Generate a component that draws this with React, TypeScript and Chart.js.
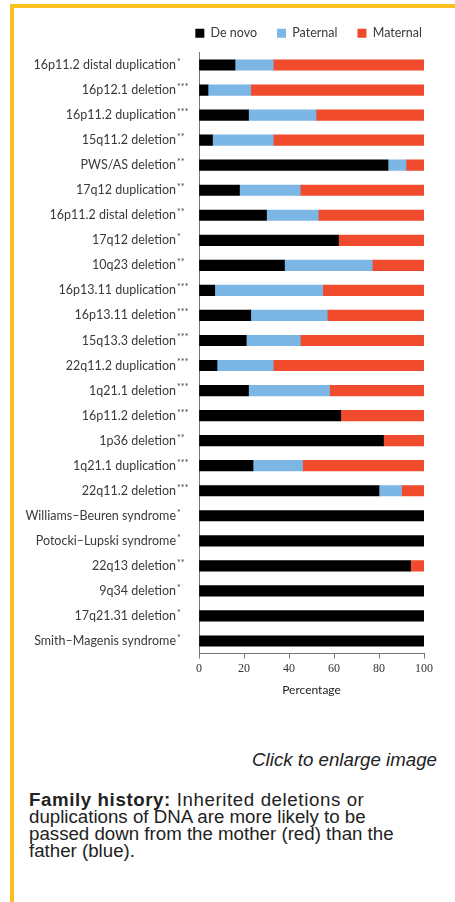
import React, { useEffect, useRef } from "react";
import { Chart, registerables } from "chart.js";

Chart.register(...registerables);

const categories = [
  "16p11.2 distal duplication",
  "16p12.1 deletion",
  "16p11.2 duplication",
  "15q11.2 deletion",
  "PWS/AS deletion",
  "17q12 duplication",
  "16p11.2 distal deletion",
  "17q12 deletion",
  "10q23 deletion",
  "16p13.11 duplication",
  "16p13.11 deletion",
  "15q13.3 deletion",
  "22q11.2 duplication",
  "1q21.1 deletion",
  "16p11.2 deletion",
  "1p36 deletion",
  "1q21.1 duplication",
  "22q11.2 deletion",
  "Williams–Beuren syndrome",
  "Potocki–Lupski syndrome",
  "22q13 deletion",
  "9q34 deletion",
  "17q21.31 deletion",
  "Smith–Magenis syndrome",
];

const stars = [
  "*", "***", "***", "**", "**", "**", "**", "*", "**", "***", "***", "***",
  "***", "***", "***", "**", "***", "***", "*", "*", "**", "*", "*", "*",
];

const deNovo = [16, 4, 22, 6, 84, 18, 30, 62, 38, 7, 23, 21, 8, 22, 63, 82, 24, 80, 100, 100, 94, 100, 100, 100];
const paternal = [17, 19, 30, 27, 8, 27, 23, 0, 39, 48, 34, 24, 25, 36, 0, 0, 22, 10, 0, 0, 0, 0, 0, 0];
const maternal = [67, 77, 48, 67, 8, 55, 47, 38, 23, 45, 43, 55, 67, 42, 37, 18, 54, 10, 0, 0, 6, 0, 0, 0];

const seriesNames = ["De novo", "Paternal", "Maternal"];
const xTicks = [0, 20, 40, 60, 80, 100];
const axisTitle = "Percentage";

const COLORS = ["#000000", "#7cb6e4", "#ef4b2c"];
const LABEL_FONT = "Lato, 'Open Sans', sans-serif";

const rowLabelPlugin = {
  id: "rowLabels",
  afterDraw(chart: any) {
    const { ctx } = chart;
    const yScale = chart.scales.y;
    const xEnd = chart.chartArea.left - 23;
    ctx.save();
    ctx.fillStyle = "#3a3a3a";
    ctx.textBaseline = "middle";
    categories.forEach((name, i) => {
      const py = yScale.getPixelForValue(i);
      ctx.font = `12.5px ${LABEL_FONT}`;
      ctx.textAlign = "right";
      ctx.fillText(name, xEnd, py);
      ctx.font = `9px ${LABEL_FONT}`;
      ctx.textAlign = "left";
      ctx.fillText(stars[i], xEnd + 1, py - 3);
    });
    ctx.restore();
  },
};

function ChartView() {
  const ref = useRef<HTMLCanvasElement | null>(null);
  useEffect(() => {
    if (!ref.current) return;
    const chart = new Chart(ref.current, {
      type: "bar",
      data: {
        labels: categories,
        datasets: [deNovo, paternal, maternal].map((d, i) => ({
          label: seriesNames[i],
          data: d,
          backgroundColor: COLORS[i],
          borderWidth: 0,
          barThickness: 10.5,
        })),
      },
      options: {
        indexAxis: "y",
        animation: false,
        responsive: false,
        devicePixelRatio: 1,
        layout: { padding: { left: 120, right: 13, top: 7, bottom: 0 } },
        plugins: {
          tooltip: { enabled: false },
          legend: {
            position: "top",
            align: "end",
            labels: {
              boxWidth: 9,
              boxHeight: 9,
              padding: 20,
              color: "#3a3a3a",
              font: { family: LABEL_FONT, size: 12.5 },
            },
          },
        },
        scales: {
          x: {
            type: "linear",
            stacked: true,
            min: 0,
            max: 100,
            afterBuildTicks: (s: any) => {
              s.ticks = xTicks.map((v) => ({ value: v }));
            },
            afterFit: (s: any) => {
              s.height = 50.5;
            },
            grid: { drawOnChartArea: false, drawTicks: true, tickLength: 5, color: "#777" },
            border: { display: true, color: "#777", width: 1 },
            ticks: {
              padding: 3,
              color: "#333",
              font: { family: "'Liberation Serif', serif", size: 12 },
            },
            title: {
              display: true,
              text: axisTitle,
              color: "#222",
              font: { family: LABEL_FONT, size: 12 },
              padding: { top: 4, bottom: 7 },
            },
          },
          x2: {
            type: "linear",
            position: "top",
            grid: { display: false },
            border: { display: false },
            ticks: { display: false },
            afterFit: (s: any) => {
              s.height = 3;
            },
          },
          y: {
            type: "category",
            stacked: true,
            grid: { display: false },
            border: { display: true, color: "#777", width: 1 },
            ticks: { display: false },
            afterFit: (s: any) => {
              s.width = 79;
            },
          },
          y2: {
            type: "linear",
            position: "right",
            grid: { display: false },
            border: { display: false },
            ticks: { display: false },
            afterFit: (s: any) => {
              s.width = 18;
            },
          },
        },
      },
      plugins: [rowLabelPlugin],
    } as any);
    return () => chart.destroy();
  }, []);
  return (
    <canvas
      ref={ref}
      width={455}
      height={704}
      style={{ position: "absolute", left: 0, top: 0, width: 455, height: 704 }}
    />
  );
}

export default function App() {
  const gold = "#fbc01e";
  return (
    <div
      style={{
        position: "fixed",
        left: 0,
        top: 0,
        width: 455,
        height: 902,
        background: "#ffffff",
        overflow: "hidden",
      }}
    >
      <div style={{ position: "absolute", left: 10, top: 4, width: 445, height: 3.5, background: gold }} />
      <div style={{ position: "absolute", left: 10, top: 4, width: 3.5, height: 898, background: gold }} />
      <ChartView />
      <div
        style={{
          position: "absolute",
          right: 18,
          top: 750,
          fontFamily: "Arial, 'Liberation Sans', sans-serif",
          fontStyle: "italic",
          fontSize: 18.7,
          lineHeight: "20px",
          color: "#222",
          whiteSpace: "nowrap",
        }}
      >
        Click to enlarge image
      </div>
      <div
        style={{
          position: "absolute",
          left: 29,
          top: 791,
          fontFamily: "Arial, 'Liberation Sans', sans-serif",
          fontSize: 18.7,
          lineHeight: "17px",
          color: "#222",
          whiteSpace: "nowrap",
        }}
      >
        <span style={{ letterSpacing: "0.6px" }}>
          <b>Family history:</b> Inherited deletions or
        </span>
        <br />
        duplications of DNA are more likely to be
        <br />
        passed down from the mother (red) than the
        <br />
        father (blue).
      </div>
    </div>
  );
}
